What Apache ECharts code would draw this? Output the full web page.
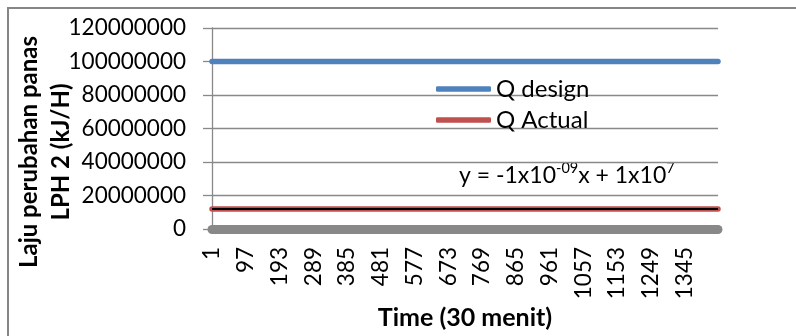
<!DOCTYPE html>
<html>
<head>
<meta charset="utf-8">
<script src="https://cdn.jsdelivr.net/npm/echarts@6/dist/echarts.min.js"></script>
<style>
html,body{margin:0;padding:0;background:#fff;}
#chart{width:796px;height:336px;}
</style>
</head>
<body>
<div id="chart"></div>
<script>
// Time steps (30-minute intervals), 1..1440
const categories = [];
for (let i = 1; i <= 1440; i++) categories.push(String(i));

// Values at the labelled time steps (and the last step)
const readAt   = [1, 97, 193, 289, 385, 481, 577, 673, 769, 865, 961, 1057, 1153, 1249, 1345, 1440];
const qDesign  = [100000000, 100000000, 100000000, 100000000, 100000000, 100000000, 100000000, 100000000,
                  100000000, 100000000, 100000000, 100000000, 100000000, 100000000, 100000000, 100000000];
const qActual  = [12000000, 12000000, 12000000, 12000000, 12000000, 12000000, 12000000, 12000000,
                  12000000, 12000000, 12000000, 12000000, 12000000, 12000000, 12000000, 12000000];
const trendAt  = [1, 1440];
const trendVal = [12000000, 12000000];

const yTicks = { min: 0, max: 120000000, interval: 20000000 };
const seriesNames = ['Q design', 'Q Actual'];

const pairs = (xs, ys) => xs.map((x, i) => [x - 1, ys[i]]);

const FONT = 'Lato';
const chart = echarts.init(document.getElementById('chart'), null, { renderer: 'canvas' });
chart.setOption({
  animation: false,
  backgroundColor: '#ffffff',
  grid: { left: 212, right: 78, top: 28, bottom: 107, containLabel: false },
  legend: {
    data: seriesNames,
    orient: 'vertical',
    left: 436, top: 77, padding: 0,
    icon: 'roundRect',
    itemWidth: 55, itemHeight: 5.5, itemGap: 7, itemTextGap: 3,
    textStyle: { fontFamily: FONT, fontSize: 24, color: '#000' }
  },
  xAxis: {
    type: 'category',
    data: categories,
    boundaryGap: false,
    offset: 4,
    axisLine: { show: true, lineStyle: { color: '#888888', width: 9 } },
    axisTick: { show: false },
    axisLabel: { interval: 95, rotate: 90, margin: 14, fontFamily: FONT, fontSize: 22.5, color: '#000' },
    splitLine: { show: false }
  },
  yAxis: {
    type: 'value',
    min: yTicks.min, max: yTicks.max, interval: yTicks.interval,
    axisLine: { show: true, lineStyle: { color: '#898989', width: 1.3 } },
    axisTick: { show: true, length: 9, lineStyle: { color: '#898989', width: 1.3 } },
    axisLabel: { margin: 26, fontFamily: FONT, fontSize: 22.5, color: '#000', formatter: v => String(v) },
    splitLine: { show: true, lineStyle: { color: '#898989', width: 1.3 } }
  },
  series: [
    { name: seriesNames[0], type: 'line', data: pairs(readAt, qDesign), symbol: 'none',
      lineStyle: { color: '#4f81bd', width: 5.5, cap: 'round' }, itemStyle: { color: '#4f81bd' }, z: 3 },
    { name: seriesNames[1], type: 'line', data: pairs(readAt, qActual), symbol: 'none',
      lineStyle: { color: '#c0504d', width: 5.5, cap: 'round' }, itemStyle: { color: '#c0504d' }, z: 3 },
    { name: 'Linear (Q Actual)', type: 'line', data: pairs(trendAt, trendVal), symbol: 'none',
      lineStyle: { color: '#000000', width: 2 }, itemStyle: { color: '#000' }, z: 4 }
  ],
  graphic: [
    { type: 'rect', shape: { x: 8, y: 8, width: 900, height: 500 },
      style: { fill: null, stroke: '#868686', lineWidth: 2 }, silent: true },
    { type: 'text', x: 45, y: 152, rotation: Math.PI / 2,
      style: { text: 'Laju perubahan panas\nLPH 2 (kJ/H)', fontFamily: FONT, fontWeight: 'bold', fontSize: 24,
               lineHeight: 32, fill: '#000', align: 'center', verticalAlign: 'middle' } },
    { type: 'text', x: 465, y: 318,
      style: { text: 'Time (30 menit)', fontFamily: FONT, fontWeight: 'bold', fontSize: 25, fill: '#000',
               align: 'center', verticalAlign: 'middle' } },
    { type: 'text', x: 459, y: 174,
      style: { text: '{n|y = -1x10}{s|-09}{n|x + 1x10}{s|7}', verticalAlign: 'middle', align: 'left',
               rich: {
                 n: { fontFamily: FONT, fontSize: 23, fill: '#000', color: '#000', verticalAlign: 'bottom', lineHeight: 26 },
                 s: { fontFamily: FONT, fontSize: 14.5, fill: '#000', color: '#000', verticalAlign: 'top', lineHeight: 26 }
               } } }
  ]
});
</script>
</body>
</html>
